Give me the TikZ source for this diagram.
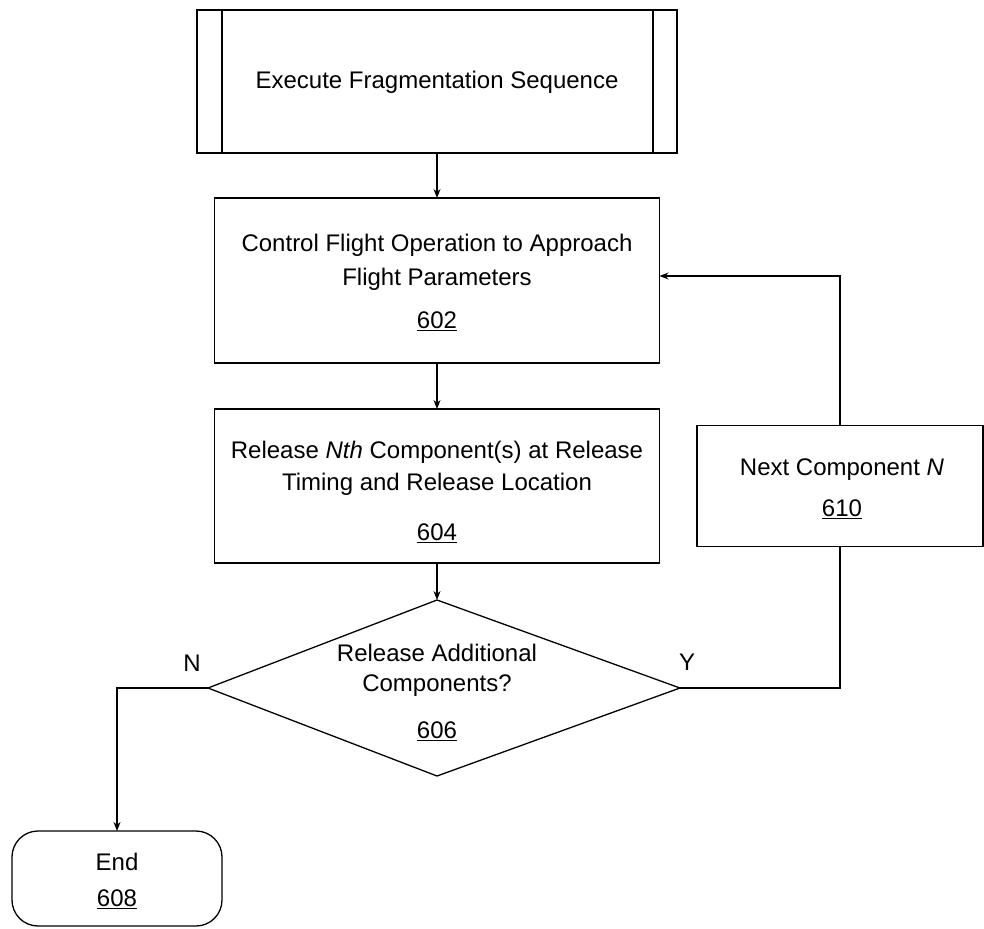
\documentclass[tikz,border=0pt]{standalone}
\usepackage{fontspec}
\setmainfont{Liberation Sans}
\usetikzlibrary{arrows.meta}
\begin{document}
\begin{tikzpicture}[x=1pt,y=-1pt,
  box/.style={draw, line width=1.3pt, inner sep=0pt, outer sep=0pt},
  txt/.style={font=\fontsize{24}{28}\selectfont, inner sep=0pt, anchor=center},
  conn/.style={line width=1.1pt, -{Stealth[length=9pt,width=7pt]}},
  plainline/.style={line width=1.1pt}]
\useasboundingbox (0,0) rectangle (984,928);
% start (predefined process)
\node[box, minimum width=480pt, minimum height=143pt] (start) at (437,81.5) {};
\draw[line width=1.3pt] ([xshift=25pt]start.north west) -- ([xshift=25pt]start.south west);
\draw[line width=1.3pt] ([xshift=-24pt]start.north east) -- ([xshift=-24pt]start.south east);
\node[txt] (starttxt) at (437,82) {Execute Fragmentation Sequence};
% 602
\node[box, minimum width=445pt, minimum height=165pt] (b602) at (437,280.5) {};
\node[txt] (t602a) at (437,245) {Control Flight Operation to Approach};
\node[txt] (t602b) at (437,279) {Flight Parameters};
\node[txt] (t602c) at (437,321) {\underline{602}};
% 604
\node[box, minimum width=445pt, minimum height=154pt] (b604) at (437,486) {};
\node[txt] (t604a) at (437,452) {Release \emph{Nth} Component(s) at Release};
\node[txt] (t604b) at (437,484) {Timing and Release Location};
\node[txt] (t604c) at (437,533) {\underline{604}};
% 606 diamond
\coordinate (dT) at (437,600);
\coordinate (dR) at (680,688);
\coordinate (dB) at (437,776);
\coordinate (dL) at (208,688);
\draw[line width=1.3pt] (dT) -- (dR) -- (dB) -- (dL) -- cycle;
\node[txt] (t606a) at (437,653) {Release Additional};
\node[txt] (t606b) at (437,686) {Components?};
\node[txt] (t606c) at (437,731) {\underline{606}};
% 610
\node[box, minimum width=286pt, minimum height=121pt] (b610) at (840,486) {};
\node[txt] (t610a) at (842,470) {Next Component \emph{N}};
\node[txt] (t610b) at (842,509) {\underline{610}};
% 608 end
\node[box, rounded corners=26pt, minimum width=210pt, minimum height=95pt] (end) at (117,878.5) {};
\node[txt] (t608a) at (117,862) {End};
\node[txt] (t608b) at (117,899) {\underline{608}};
% labels
\node[txt] (lN) at (192,663) {N};
\node[txt] (lY) at (687,662) {Y};
% connectors
\coordinate (loopy) at (0,276);
\draw[conn] (start.south) -- (b602.north);
\draw[conn] (b602.south) -- (b604.north);
\draw[conn] (b604.south) -- (dT);
\draw[conn] (dL) -| (end.north);
\draw[plainline] (dR) -| (b610.south);
\draw[conn] (b610.north) |- (b602.east |- loopy);
\end{tikzpicture}
\end{document}
